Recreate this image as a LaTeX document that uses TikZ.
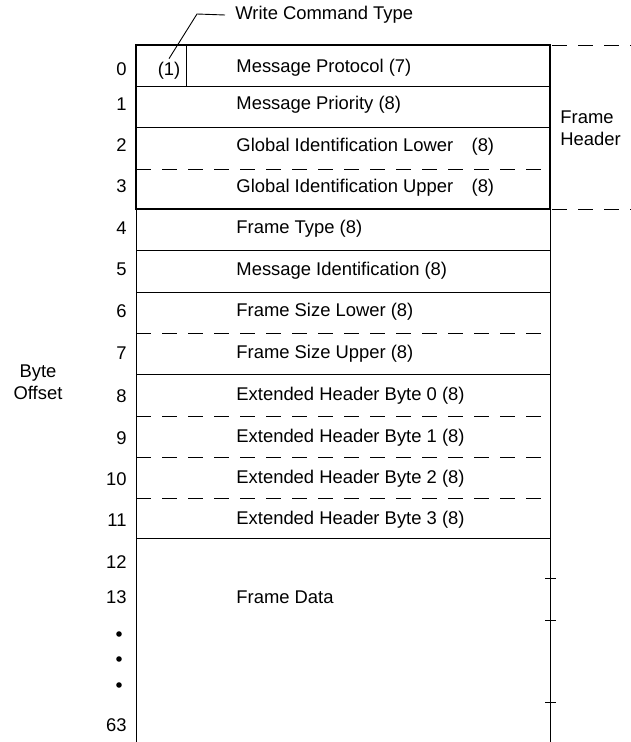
\documentclass[tikz,border=0pt]{standalone}
\usepackage{fontspec}
\setmainfont{Liberation Sans}

\tikzset{
  field/.style={anchor=west,inner sep=0pt},
  offset/.style={anchor=east,inner sep=0pt},
  rowdash/.style={dash pattern=on 15pt off 11pt},
}

\begin{document}
\begin{tikzpicture}[x=1pt,y=-1pt,line width=0.9pt,font=\fontsize{18.4}{22}\selectfont]
  \useasboundingbox (0,0) rectangle (631,742);
  % frame outline
  \draw (136,45) -- (136,742);
  \draw (550,45) -- (550,742);
  \foreach \y in {86,127,250,292,374,538} \draw (136,\y) -- (550,\y);
  \foreach \y in {169,333,416,457,498} \draw[rowdash] (136,\y) -- (550,\y);
  \draw[line width=2pt] (136,45) rectangle (550,209);
  \draw (186,45) -- (186,86);
  % ticks on the data area
  \foreach \y in {578,620,702} \draw (545,\y) -- (556,\y);
  % header bracket
  \draw[rowdash] (552,45) -- (631,45);
  \draw[rowdash] (552,209) -- (631,209);
  \node[align=left,anchor=west,inner sep=0pt] (fhdr) at (560,128) {Frame\\Header};
  % fields
  \node (wcbit) at (169,71) {(1)};
  \node[field] (proto) at (236,68) {Message Protocol (7)};
  \node[field] (prio) at (236,105) {Message Priority (8)};
  \node[field] (gidlo) at (236,147) {Global Identification Lower\quad(8)};
  \node[field] (gidhi) at (236,188) {Global Identification Upper\quad(8)};
  \node[field] (ftype) at (236,229) {Frame Type (8)};
  \node[field] (msgid) at (236,271) {Message Identification (8)};
  \node[field] (fszlo) at (236,312) {Frame Size Lower (8)};
  \node[field] (fszhi) at (236,354) {Frame Size Upper (8)};
  \foreach \i/\y in {0/396,1/438,2/479,3/520}
    \node[field] (ext\i) at (236,\y) {Extended Header Byte \i\ (8)};
  \node[field] (fdata) at (236,597) {Frame Data};
  % byte offsets
  \foreach \n/\y in {0/69,1/104,2/145,3/186,4/228,5/269,6/311,7/353,8/396,9/438,10/479,11/520,12/562,13/597,63/725}
    \node[offset] (off\n) at (127,\y) {\n};
  \foreach \y in {634,659,685} \fill (119,\y) circle (2.8pt);
  \node[align=center,inner sep=0pt] (boff) at (38,382) {Byte\\Offset};
  % write command type label
  \node[field] (wcmd) at (235,15) {Write Command Type};
  \coordinate (bend) at (197,14);
  \draw (wcbit.north) -- (bend) -- (wcmd.west -| 225,0);
\end{tikzpicture}
\end{document}
